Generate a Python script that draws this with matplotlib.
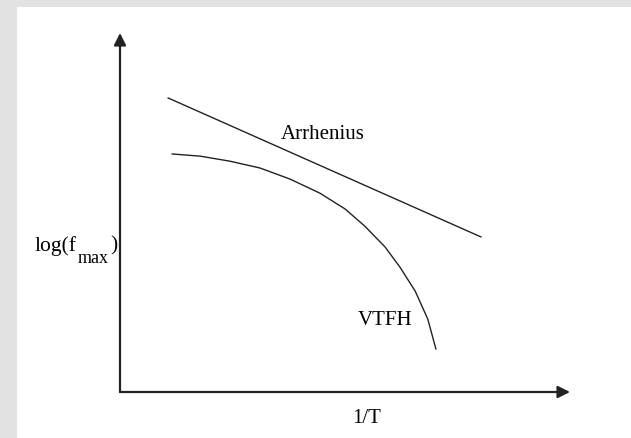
import matplotlib.pyplot as plt
from matplotlib.patches import Rectangle

# Schematic: relaxation peak frequency vs inverse temperature
inv_T_arr = [0.107, 0.802]
log_f_arr = [0.819, 0.432]

inv_T_vtfh = [0.116, 0.178, 0.244, 0.311, 0.378, 0.444, 0.500, 0.544, 0.589,
              0.622, 0.656, 0.684, 0.702]
log_f_vtfh = [0.663, 0.657, 0.643, 0.624, 0.593, 0.554, 0.510, 0.462, 0.404,
              0.348, 0.281, 0.203, 0.120]

labels = {'Arrhenius': (0.451, 0.719), 'VTFH': (0.589, 0.203)}

W, H = 631, 439
fig = plt.figure(figsize=(W / 100, H / 100), dpi=100)
fig.patch.set_facecolor('#e2e2e2')

# white slide area
fig.patches.append(Rectangle((17 / W, 0), 1 - 17 / W, 1 - 8 / H,
                             transform=fig.transFigure, facecolor='white',
                             edgecolor='none', zorder=-1))

ax = fig.add_axes([120 / W, (H - 393) / H, 450 / W, (393 - 34) / H])
ax.set_zorder(1)
ax.set_xlim(0, 1)
ax.set_ylim(0, 1)
ax.axis('off')

font = dict(family='Liberation Serif', size=15, color='black')

# axes with arrow heads
arrow = dict(arrowstyle='-|>,head_length=0.6,head_width=0.3', lw=1.6,
             color='#222222', mutation_scale=12, shrinkA=0, shrinkB=0)
ax.annotate('', xy=(0, 1), xytext=(0, 0), arrowprops=arrow, annotation_clip=False)
ax.annotate('', xy=(1, 0), xytext=(0, 0), arrowprops=arrow, annotation_clip=False)

ax.plot(inv_T_arr, log_f_arr, color='#222222', lw=1.0)
ax.plot(inv_T_vtfh, log_f_vtfh, color='#222222', lw=1.0)

for name, (x, y) in labels.items():
    ax.text(x, y, name, ha='center', va='center', **font)

ax.text(0.547, -0.07, '1/T', ha='center', va='center', transform=ax.transAxes, **font)

# y label: log(f_max) built from pieces so the subscript sits low
ax.text(-0.189, 0.409, 'log(f', ha='left', va='center',
        transform=ax.transAxes, family='Liberation Serif', size=15.5)
ax.text(-0.094, 0.374, 'max', ha='left', va='center',
        transform=ax.transAxes, family='Liberation Serif', size=13)
ax.text(-0.022, 0.409, ')', ha='left', va='center',
        transform=ax.transAxes, family='Liberation Serif', size=15.5)

fig.savefig('out.png', dpi=100)
